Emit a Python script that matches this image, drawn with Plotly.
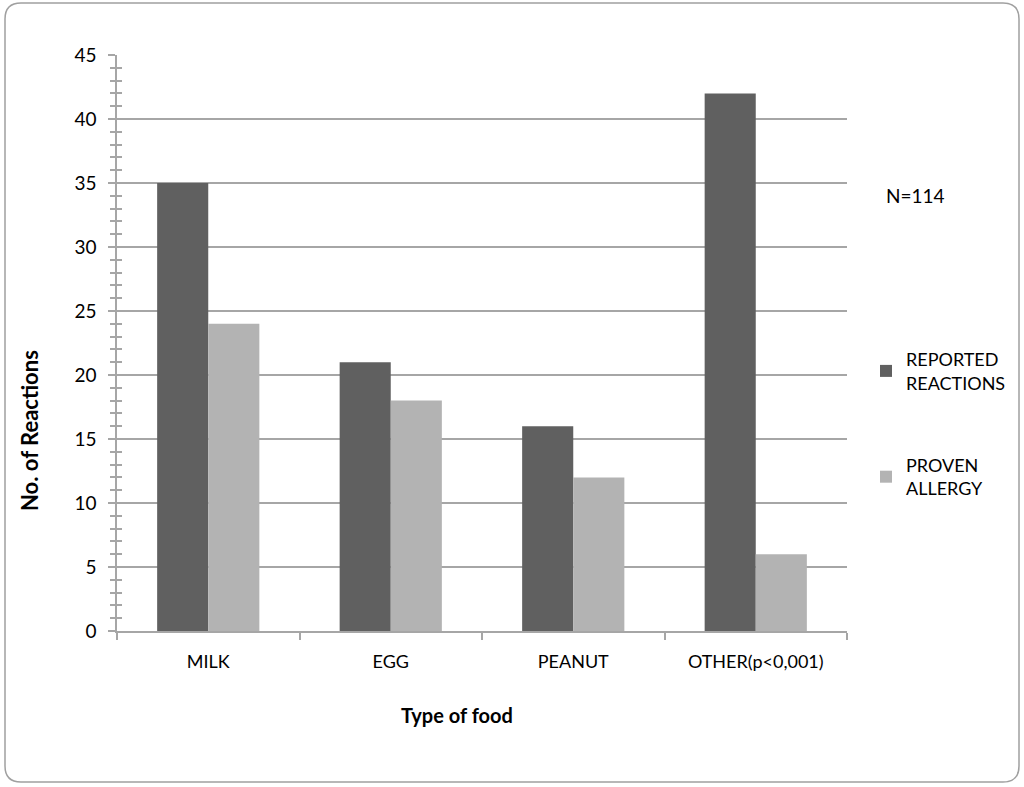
import plotly.graph_objects as go

categories = ["MILK", "EGG", "PEANUT", "OTHER(p<0,001)"]
reported = [35, 21, 16, 42]
proven = [24, 18, 12, 6]
series_names = ["REPORTED<br>REACTIONS", "PROVEN<br>ALLERGY"]

FONT = "Lato, 'Open Sans', sans-serif"
AX = "#a6a6a6"

fig = go.Figure()
fig.add_trace(go.Bar(x=categories, y=reported, name=series_names[0],
                     marker=dict(color="#606060", line=dict(width=0)),
                     legendgroup="a"))
fig.add_trace(go.Bar(x=categories, y=proven, name=series_names[1],
                     marker=dict(color="#b3b3b3", line=dict(width=0)),
                     legendgroup="b"))

W, H = 1024, 787
L, R, T, B = 117, 847, 55, 631
def px(p):
    return (p - L) / (R - L)
def py(p):
    return (B - p) / (B - T)

x0, x1, y0, y1, r = 5, 1019, 3, 782, 16
path = (f"M {px(x0+r)},{py(y0)} L {px(x1-r)},{py(y0)} "
        f"Q {px(x1)},{py(y0)} {px(x1)},{py(y0+r)} "
        f"L {px(x1)},{py(y1-r)} Q {px(x1)},{py(y1)} {px(x1-r)},{py(y1)} "
        f"L {px(x0+r)},{py(y1)} Q {px(x0)},{py(y1)} {px(x0)},{py(y1-r)} "
        f"L {px(x0)},{py(y0+r)} Q {px(x0)},{py(y0)} {px(x0+r)},{py(y0)} Z")

fig.update_layout(
    width=W, height=H,
    margin=dict(l=L, r=W - R, t=T, b=H - B, autoexpand=False),
    paper_bgcolor="white", plot_bgcolor="white",
    barmode="group", bargap=0.44, bargroupgap=0,
    font=dict(family=FONT, size=18, color="#000000"),
    legend=dict(xref="container", yref="container",
                x=866 / W, y=1 - 341 / H, xanchor="left", yanchor="top",
                tracegroupgap=56, traceorder="grouped",
                font=dict(size=18), itemwidth=30, bgcolor="rgba(0,0,0,0)"),
    xaxis=dict(showline=True, linecolor=AX, linewidth=1.5,
               ticks="outside", ticklen=7, tickcolor=AX, tickwidth=1.5,
               tickson="boundaries", showgrid=False, automargin=False,
               ticklabelstandoff=14, tickfont=dict(size=18)),
    yaxis=dict(range=[0, 45], dtick=5, showline=True, linecolor=AX, linewidth=1.5,
               ticks="outside", ticklen=7, tickcolor=AX, tickwidth=1.5,
               showgrid=True, gridcolor=AX, gridwidth=1.5, automargin=False,
               minor=dict(dtick=1, ticks="outside", ticklen=5, tickcolor=AX,
                          tickwidth=1.5, showgrid=False),
               ticklabelstandoff=8, tickfont=dict(size=19), zeroline=False),
    yaxis2=dict(range=[0, 45], overlaying="y", side="left", anchor="x",
                showgrid=False, showticklabels=False, showline=False,
                ticks="inside", ticklen=5, dtick=1, tickcolor=AX, tickwidth=1.5,
                zeroline=False, automargin=False),
    shapes=[dict(type="path", xref="paper", yref="paper", path=path,
                 line=dict(color="#a0a0a0", width=1.5), layer="below")],
    annotations=[
        dict(text="N=114", x=px(884), y=py(196), xref="paper", yref="paper",
             xanchor="left", yanchor="middle", showarrow=False, font=dict(size=19)),
        dict(text="<b>No. of Reactions</b>", x=px(29), y=py(431), xref="paper",
             yref="paper", xanchor="center", yanchor="middle",
             textangle=-90, showarrow=False, font=dict(size=22)),
        dict(text="<b>Type of food</b>", x=px(457), y=py(715), xref="paper",
             yref="paper", xanchor="center", yanchor="middle",
             showarrow=False, font=dict(size=20)),
    ],
)
fig.add_trace(go.Scatter(x=[None], y=[None], yaxis="y2", showlegend=False,
                         hoverinfo="skip"))

fig.write_html("out.html", config={"displayModeBar": False},
               post_script="document.body.style.margin='0';")
